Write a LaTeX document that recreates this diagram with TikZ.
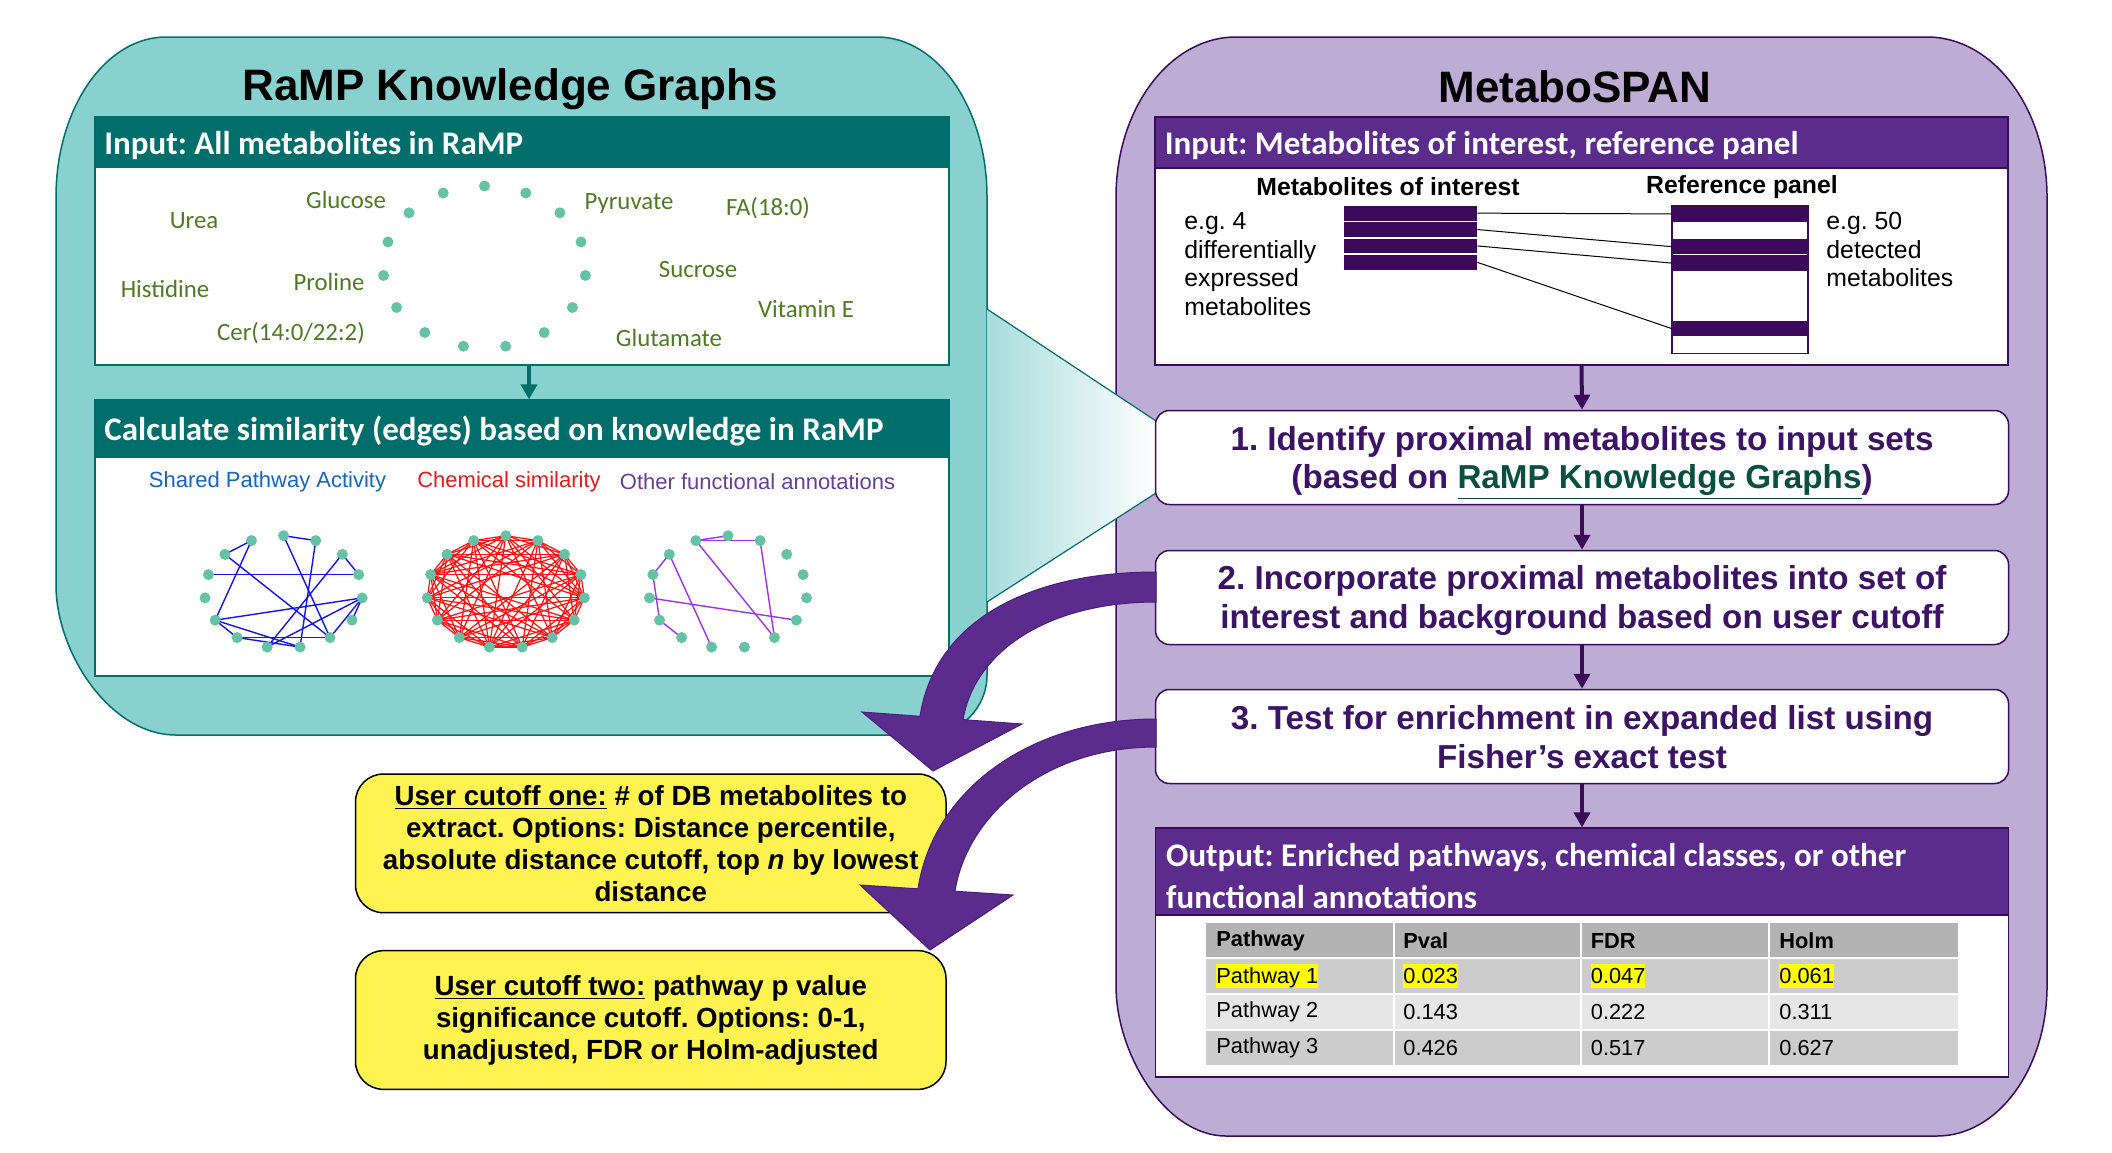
\documentclass[tikz,border=0pt]{standalone}
\usepackage{fontspec}
\setmainfont{Liberation Sans}
\newfontfamily\carl{Carlito}
\usetikzlibrary{arrows.meta,calc}
\frenchspacing
\definecolor{tealfill}{HTML}{88D1CF}
\definecolor{tealdark}{HTML}{006E6B}
\definecolor{lavfill}{HTML}{BDADD5}
\definecolor{purpbar}{HTML}{5B2C8C}
\definecolor{purpdark}{HTML}{3B0A5A}
\definecolor{steptext}{HTML}{3D1366}
\definecolor{linkgreen}{HTML}{0A5040}
\definecolor{metabgreen}{HTML}{4F7A24}
\definecolor{dotcol}{HTML}{66C2A5}
\definecolor{yelfill}{HTML}{FFF352}
\definecolor{conecol}{HTML}{A8DCDC}
\definecolor{blueedge}{HTML}{1414E6}
\definecolor{rededge}{HTML}{FF1010}
\definecolor{violetedge}{HTML}{A030F0}
\definecolor{lblblue}{HTML}{1565C0}
\definecolor{lblred}{HTML}{E41A1C}
\definecolor{lblpurple}{HTML}{6A3D9A}
\definecolor{rowA}{HTML}{B3B3B3}
\definecolor{rowB}{HTML}{CCCCCC}
\definecolor{rowC}{HTML}{E6E6E6}
\definecolor{arrowpurp}{HTML}{5B2C8E}
\definecolor{arrowedge}{HTML}{4A1E78}
\definecolor{hilite}{HTML}{FFFF00}
\newcommand{\hlcell}[1]{{\setlength{\fboxsep}{0pt}\colorbox{hilite}{\rule[-0.212em]{0pt}{1.117em}#1}}}
\begin{document}
\begin{tikzpicture}[x=0.5pt,y=-0.5pt,
  titletext/.style={font=\bfseries\fontsize{22}{26}\selectfont, inner sep=0pt},
  barbox/.style={rectangle, inner sep=0pt, line width=0.6pt},
  bartext/.style={font=\carl\bfseries\fontsize{16.5}{20.85}\selectfont, text=white, anchor=west, inner sep=0pt, align=left},
  whitebox/.style={rectangle, inner sep=0pt, fill=white, line width=0.7pt},
  metab/.style={font=\carl\fontsize{12.4}{14}\selectfont, text=metabgreen, inner sep=0pt},
  glabel/.style={font=\fontsize{11}{13}\selectfont, inner sep=0pt},
  boldlbl/.style={font=\bfseries\fontsize{12.4}{14}\selectfont, inner sep=0pt},
  egtext/.style={font=\fontsize{12.4}{14.2}\selectfont, inner sep=0pt, align=left, anchor=west},
  darkbar/.style={rectangle, inner sep=0pt, fill=purpdark, minimum height=7.45pt},
  rowcell/.style={rectangle, inner sep=0pt, minimum height=8.2pt, draw=white, line width=0.5pt},
  stepbox/.style={rectangle, rounded corners=7pt, draw=purpdark, line width=0.75pt, fill=white,
     minimum width=426.5pt, minimum height=47pt, inner sep=0pt},
  steptxt/.style={align=center, text=steptext, inner sep=0pt,
     font=\bfseries\fontsize{16.6}{19.2}\selectfont},
  steparrow/.style={draw=purpdark, line width=2pt, -{Triangle[width=8pt,length=7.5pt]}},
  tealarrow/.style={draw=tealdark, line width=2pt, -{Triangle[width=8pt,length=7.5pt]}},
  yelbox/.style={rectangle, rounded corners=14pt, fill=yelfill, draw=black, line width=0.75pt,
     minimum width=295.25pt, minimum height=69.35pt, align=center, inner sep=0pt,
     font=\bfseries\fontsize{13.85}{16}\selectfont},
  tabtext/.style={font=\fontsize{10.9}{13}\selectfont, inner sep=0pt, anchor=west},
  tabhead/.style={font=\bfseries\fontsize{10.9}{13}\selectfont, inner sep=0pt, anchor=west},
  blueE/.style={draw=blueedge, line width=0.7pt},
  redE/.style={draw=rededge, line width=0.6pt},
  violetE/.style={draw=violetedge, line width=0.7pt},
  bigarrow/.style={fill=arrowpurp, draw=arrowedge, line width=0.5pt}
]
\useasboundingbox (0,0) rectangle (2112,1152);

% ---------- panels ----------
\path[fill=tealfill, draw=tealdark, line width=0.75pt]
 (56,197) .. controls (56,108.6) and (105.25,37) .. (166,37)
 -- (877,37) .. controls (937.75,37) and (987,108.6) .. (987,197)
 -- (987,675) .. controls (987,708.1) and (960.1,735) .. (927,735)
 -- (176,735) .. controls (109.7,735) and (56,652.2) .. (56,585)
 -- cycle;
\path[fill=lavfill, draw=purpdark, line width=0.75pt]
 (1116,197) .. controls (1116,108.6) and (1169.7,37) .. (1236,37)
 -- (1927,37) .. controls (1993.3,37) and (2047,108.6) .. (2047,197)
 -- (2047,986) .. controls (2047,1068.8) and (1997.75,1136) .. (1937,1136)
 -- (1226,1136) .. controls (1165.25,1136) and (1116,1053.2) .. (1116,986)
 -- cycle;

% cone
\shade[left color=conecol, right color=white] (987,309) -- (1156,421) -- (1156,493) -- (987,602) -- cycle;
\draw[tealdark, line width=0.6pt] (987,309) -- (1156,421) (987,602) -- (1156,493);

% ---------- left panel ----------
\node[titletext] (ltitle) at (510,89) {RaMP Knowledge Graphs};
\node[barbox, fill=tealdark, draw=tealdark, minimum width=427pt, minimum height=25pt] (lin) at (522,142) {};
\node[bartext] (linT) at (104,146) {Input: All metabolites in RaMP};
\node[whitebox, draw=tealdark, minimum width=427pt, minimum height=99pt] (lbox1) at (522,266) {};

\node[metab] (mGlucose) at (346,200) {Glucose};
\node[metab] (mUrea) at (194,221) {Urea};
\node[metab] (mPyruvate) at (629,204) {Pyruvate};
\node[metab] (mFA) at (768,208) {FA(18:0)};
\node[metab] (mHis) at (165,289) {Histidine};
\node[metab] (mPro) at (329,282) {Proline};
\node[metab] (mSuc) at (698,270) {Sucrose};
\node[metab] (mVitE) at (806,309) {Vitamin E};
\node[metab] (mCer) at (291,333) {Cer(14:0/22:2)};
\node[metab] (mGlu) at (669,338) {Glutamate};

\foreach \k in {0,...,14} {
  \pgfmathsetmacro\ang{90+24*\k}
  \coordinate (md\k) at ({484.5+101.5*cos(\ang)}, {267-81*sin(\ang)});
  \fill[dotcol] (md\k) circle[radius=5.5];
}

\node[barbox, fill=tealdark, draw=tealdark, minimum width=427pt, minimum height=28.5pt] (lbar2) at (522,428.5) {};
\node[bartext] (lbar2T) at (104,431.5) {Calculate similarity (edges) based on knowledge in RaMP};
\node[whitebox, draw=tealdark, minimum width=427pt, minimum height=109.5pt] (lbox2) at (522,566.5) {};
\draw[tealarrow] ([xshift=3.5pt]lbox1.south) -- ([xshift=3.5pt]lbar2.north);

\node[glabel, text=lblblue] (gl1) at (267.5,482) {Shared Pathway Activity};
\node[glabel, text=lblred] (gl2) at (509,482) {Chemical similarity};
\node[glabel, text=lblpurple] (gl3) at (757.5,482) {Other functional annotations};

\foreach \g/\cx in {1/283.6, 2/505.8, 3/728} {
  \foreach \k in {0,...,14} {
    \pgfmathsetmacro\ang{90+24*\k}
    \coordinate (g\g-\k) at ({\cx+79*cos(\ang)}, {592-56.3*sin(\ang)});
  }
}
\foreach \a/\b in {0/14, 1/2, 1/5, 2/9, 3/12, 0/9, 14/8, 13/12, 13/7, 11/5, 11/7, 11/9, 11/10, 5/6, 5/8, 6/9, 6/8}
  \draw[blueE] (g1-\a) -- (g1-\b);
\foreach \i in {0,...,13} {
  \pgfmathtruncatemacro\js{\i+1}
  \foreach \j in {\js,...,14} {
    \pgfmathtruncatemacro\m{mod(\i*3+\j*5,4)}
    \ifnum\m>0 \draw[redE] (g2-\i) -- (g2-\j); \fi
  }
}
\foreach \a/\b in {1/0, 1/14, 14/9, 1/9, 2/3, 3/5, 5/6, 2/7, 4/10}
  \draw[violetE] (g3-\a) -- (g3-\b);
\foreach \g in {1,2,3} {
  \foreach \k in {0,...,14} {
    \fill[dotcol] (g\g-\k) circle[radius=5.5];
  }
}

% ---------- right panel ----------
\node[titletext] (rtitle) at (1575,87) {MetaboSPAN};
\node[barbox, fill=purpbar, draw=purpdark, minimum width=426.5pt, minimum height=25.5pt] (rin) at (1581.5,142.5) {};
\node[bartext] (rinT) at (1164.5,146) {Input: Metabolites of interest, reference panel};
\node[whitebox, draw=purpdark, minimum width=426.5pt, minimum height=98.5pt] (rbox) at (1581.5,266.5) {};

\node[boldlbl] (moi) at (1388,187) {Metabolites of interest};
\node[boldlbl] (rpl) at (1742,187) {Reference panel};
\foreach \i in {0,...,3}
  \node[darkbar, minimum width=66.5pt] (mb\i) at (1410.5, {213.15+16.4*\i}) {};
\foreach \i in {0,...,8}
  \node[rowcell, minimum width=67.45pt] (rp\i) at (1740, {213.9+16.4*\i}) {};
\foreach \i in {0,2,3,7}
  \node[rowcell, fill=purpdark, minimum width=67.45pt] (rf\i) at (1740, {213.9+16.4*\i}) {};
\draw[purpdark, line width=0.6pt] (rp0.north west) rectangle (rp8.south east);
\draw[black, line width=0.5pt] (mb0.east) -- (rp0.west);
\draw[black, line width=0.5pt] (mb1.east) -- (rp2.west);
\draw[black, line width=0.5pt] (mb2.east) -- (rp3.west);
\draw[black, line width=0.5pt] (mb3.east) -- (rp7.west);
\node[egtext] (eg4) at (1184,264) {e.g. 4\\differentially\\expressed\\metabolites};
\node[egtext] (eg50) at (1826,249.5) {e.g. 50\\detected\\metabolites};

\node[stepbox] (s1) at (1582,457.5) {};
\node[steptxt] (s1t) at (1582,463) {1. Identify proximal metabolites to input sets\\(based on \textcolor{linkgreen}{\underline{RaMP Knowledge Graphs}})};
\node[stepbox] (s2) at (1582,597.5) {};
\node[steptxt] (s2t) at (1582,600.5) {2. Incorporate proximal metabolites into set of\\interest and background based on user cutoff};
\node[stepbox] (s3) at (1582,736.5) {};
\node[steptxt] (s3t) at (1582,737) {3. Test for enrichment in expanded list using\\Fisher’s exact test};

\node[barbox, fill=purpbar, draw=purpdark, minimum width=426.5pt, minimum height=43.5pt] (rout) at (1582,871.5) {};
\node[bartext] (routT) at (1165.8,876) {Output: Enriched pathways, chemical classes, or other\\functional annotations};
\node[whitebox, draw=purpdark, minimum width=426.5pt, minimum height=81pt] (routbox) at (1582,996) {};

\draw[steparrow] (rbox.south) -- (s1.north);
\draw[steparrow] (s1.south) -- (s2.north);
\draw[steparrow] (s2.south) -- (s3.north);
\draw[steparrow] (s3.south) -- (rout.north);

% table
\fill[rowA] (1206,923) rectangle (1958,958);
\fill[rowB] (1206,958) rectangle (1958,994);
\fill[rowC] (1206,994) rectangle (1958,1030);
\fill[rowB] (1206,1030) rectangle (1958,1065);
\draw[white, line width=0.8pt] (1394,923) -- (1394,1065) (1581,923) -- (1581,1065) (1769,923) -- (1769,1065)
  (1206,958) -- (1958,958) (1206,994) -- (1958,994) (1206,1030) -- (1958,1030);
\node[tabhead] (th1) at (1216,940.5) {Pathway};
\node[tabhead] (th2) at (1403,940.5) {Pval};
\node[tabhead] (th3) at (1590.5,940.5) {FDR};
\node[tabhead] (th4) at (1779,940.5) {Holm};
\node[tabtext] (t11) at (1216,976) {\hlcell{Pathway 1}};
\node[tabtext] (t12) at (1403,976) {\hlcell{0.023}};
\node[tabtext] (t13) at (1590.5,976) {\hlcell{0.047}};
\node[tabtext] (t14) at (1779,976) {\hlcell{0.061}};
\node[tabtext] (t21) at (1216,1012) {Pathway 2};
\node[tabtext] (t22) at (1403,1012) {0.143};
\node[tabtext] (t23) at (1590.5,1012) {0.222};
\node[tabtext] (t24) at (1779,1012) {0.311};
\node[tabtext] (t31) at (1216,1047.5) {Pathway 3};
\node[tabtext] (t32) at (1403,1047.5) {0.426};
\node[tabtext] (t33) at (1590.5,1047.5) {0.517};
\node[tabtext] (t34) at (1779,1047.5) {0.627};

% ---------- yellow boxes ----------
\node[yelbox] (y1) at (650.75,843.35) {\underline{User cutoff one:} \# of DB metabolites to\\extract. Options: Distance percentile,\\absolute distance cutoff, top \textit{n} by lowest\\distance};
\node[yelbox] (y2) at (650.75,1020) {\underline{User cutoff two:} pathway p value\\significance cutoff. Options: 0-1,\\unadjusted, FDR or Holm-adjusted};

% ---------- curved arrows ----------
\path[bigarrow]
 (1156,572) .. controls (1030,572) and (935,620) .. (920,716.3)
 -- (862,712) -- (933,771) -- (1022,724) -- (963,719.6)
 .. controls (975,650) and (1050,602) .. (1156,602) -- cycle;
\path[bigarrow]
 (1156,719) .. controls (1030,719) and (933,790) .. (918,888.8)
 -- (860,885) -- (930,950) -- (1013,895) -- (955,891.2)
 .. controls (967,815) and (1045,747) .. (1156,747) -- cycle;
\end{tikzpicture}
\end{document}
